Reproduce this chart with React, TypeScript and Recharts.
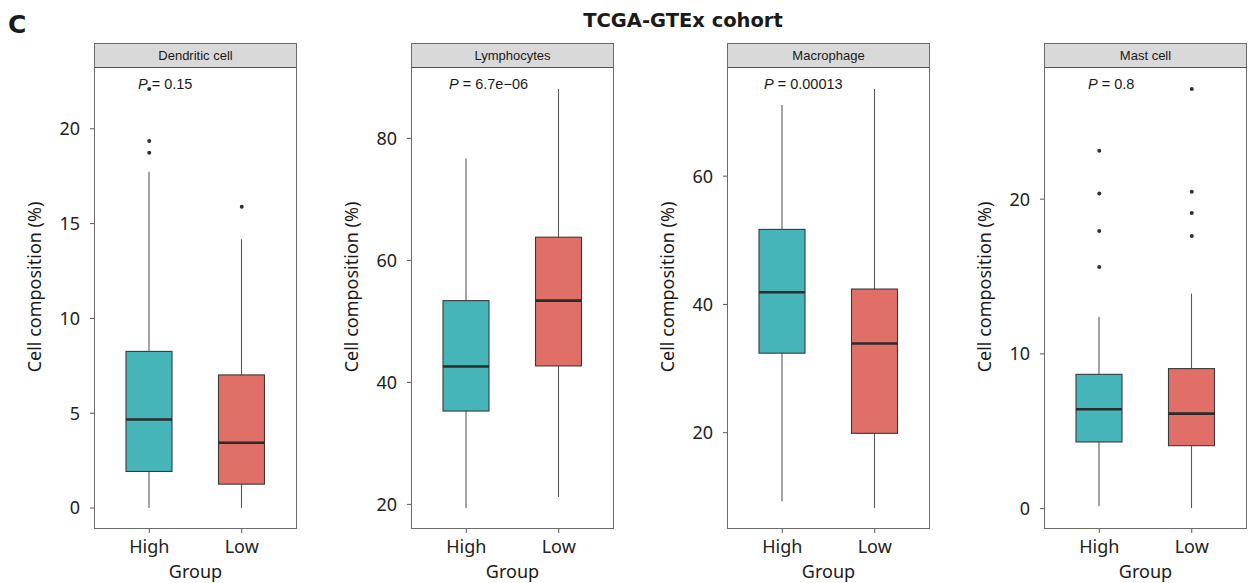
import React from 'react';
import { ComposedChart, Bar, Scatter, XAxis, YAxis } from 'recharts';

const cellTypes = ['Dendritic cell', 'Lymphocytes', 'Macrophage', 'Mast cell'];
const groups = ['High', 'Low'];
const pValues = ['0.15', '6.7e\u221206', '0.00013', '0.8'];

// each entry: [High, Low]
const whiskerMin = [[0, 0], [19.4, 21.2], [9.3, 8.25], [0.17, 0.04]];
const lowerQuartile = [[1.93, 1.26], [35.3, 42.7], [32.4, 19.9], [4.31, 4.07]];
const medianValues = [[4.67, 3.44], [42.6, 53.4], [41.9, 33.9], [6.42, 6.14]];
const upperQuartile = [[8.26, 7.02], [53.4, 63.8], [51.7, 42.4], [8.68, 9.05]];
const whiskerMax = [[17.74, 14.18], [76.7, 88.1], [71.1, 73.6], [12.39, 13.9]];
const outlierValues = [
    [[22.1, 19.35, 18.74], [15.89]],
    [[], []],
    [[], []],
    [[23.12, 20.36, 17.94, 15.62], [27.12, 20.47, 19.11, 17.62]],
];
const yTicks = [[0, 5, 10, 15, 20], [20, 40, 60, 80], [20, 40, 60], [0, 10, 20]];

const GROUP_COLORS = ['#45b5b9', '#e06f68'];
const PLOT_LEFT = [94, 411, 727, 1044];
const PLOT_WIDTH = 203;
const AXIS_W = 94;
const P_LABEL_OFFSET = [44, 38, 37, 44];

const tickFont = { fill: '#222', fontSize: 18, fontFamily: 'Noto Sans' };

function BoxShape(props: any) {
    const { x, y, width, height, payload } = props;
    const [lo, hi] = payload.range;
    const top = Math.min(y, y + height);
    const bottom = Math.max(y, y + height);
    const toPx = (v: number) => top + ((hi - v) / (hi - lo)) * (bottom - top);
    const cx = x + width / 2;
    const q3y = toPx(payload.q3);
    const q1y = toPx(payload.q1);
    const my = toPx(payload.median);
    return (
        <g>
            <line x1={cx} x2={cx} y1={top} y2={bottom} stroke="#5a5a5a" strokeWidth={1.1} />
            <rect x={x} y={q3y} width={width} height={q1y - q3y} fill={payload.color} stroke="#3a3a3a" strokeWidth={1.1} />
            <line x1={x} x2={x + width} y1={my} y2={my} stroke="#2b2b2b" strokeWidth={2.6} />
        </g>
    );
}

function OutlierDot(props: any) {
    if (props.cx == null || props.cy == null || isNaN(props.cy)) return <g />;
    return <circle cx={props.cx} cy={props.cy} r={2} fill="#2f2f2f" />;
}

function BoxPanel({ index }: { index: number }) {
    const rows = groups.map((g, i) => ({
        group: g,
        range: [whiskerMin[index][i], whiskerMax[index][i]],
        q1: lowerQuartile[index][i],
        median: medianValues[index][i],
        q3: upperQuartile[index][i],
        color: GROUP_COLORS[i],
    }));
    const points = groups.flatMap((g, i) => outlierValues[index][i].map(v => ({ group: g, value: v })));

    // ggplot style 5% expansion of the data range
    const all = [...whiskerMin[index], ...whiskerMax[index], ...outlierValues[index].flat()];
    const lo = Math.min(...all);
    const hi = Math.max(...all);
    const pad = (hi - lo) * 0.05;

    return (
        <div style={{ position: 'absolute', left: PLOT_LEFT[index] - AXIS_W, top: 0 }}>
            <ComposedChart
                width={AXIS_W + PLOT_WIDTH + 1}
                height={583}
                data={rows}
                margin={{ top: 68, right: 1, bottom: 0, left: 0 }}
            >
                <XAxis
                    dataKey="group"
                    type="category"
                    allowDuplicatedCategory={false}
                    padding={{ left: 9, right: 9 }}
                    height={54}
                    tickSize={4}
                    tickMargin={7}
                    axisLine={false}
                    tickLine={{ stroke: '#555' }}
                    tick={tickFont}
                />
                <YAxis
                    type="number"
                    domain={[lo - pad, hi + pad]}
                    ticks={yTicks[index]}
                    width={AXIS_W}
                    tickSize={4}
                    tickMargin={10}
                    axisLine={false}
                    tickLine={{ stroke: '#555' }}
                    tick={tickFont}
                />
                <Bar dataKey="range" barSize={46} shape={BoxShape} isAnimationActive={false} />
                {points.length > 0 && (
                    <Scatter data={points} dataKey="value" shape={OutlierDot} isAnimationActive={false} />
                )}
            </ComposedChart>
        </div>
    );
}

export default function App() {
    return (
        <div style={{ position: 'absolute', left: 0, top: 0, width: 1248, height: 583, background: '#fff', overflow: 'hidden' }}>
            {cellTypes.map((_, i) => <BoxPanel key={i} index={i} />)}

            <svg width={1248} height={583} style={{ position: 'absolute', left: 0, top: 0, pointerEvents: 'none' }}>
                <text x={8} y={33} fontFamily="DejaVu Sans" fontWeight="bold" fontSize={25} fill="#1a1a1a">C</text>
                <text x={683} y={27} textAnchor="middle" fontFamily="DejaVu Sans" fontWeight="bold" fontSize={19.5} fill="#1a1a1a">
                    TCGA-GTEx cohort
                </text>

                {cellTypes.map((name, i) => {
                    const left = PLOT_LEFT[i];
                    const mid = left + PLOT_WIDTH / 2;
                    return (
                        <g key={name}>
                            <rect x={left + 0.5} y={43.5} width={PLOT_WIDTH - 1} height={24} fill="#d9d9d9" stroke="#555" />
                            <rect x={left + 0.5} y={43.5} width={PLOT_WIDTH - 1} height={485} fill="none" stroke="#6b6b6b" />
                            <text x={mid} y={60} textAnchor="middle" fontFamily="Liberation Sans" fontSize={13} fill="#1a1a1a">
                                {name}
                            </text>
                            <text x={left + P_LABEL_OFFSET[i]} y={89} fontFamily="Liberation Sans" fontSize={14.5} fill="#1a1a1a">
                                <tspan fontStyle="italic">P</tspan> = {pValues[i]}
                            </text>
                            <text
                                x={left - 60}
                                y={287}
                                transform={`rotate(-90, ${left - 60}, 287)`}
                                textAnchor="middle"
                                dominantBaseline="central"
                                fontFamily="Noto Sans"
                                fontSize={18}
                                fill="#1a1a1a"
                            >
                                Cell composition (%)
                            </text>
                            <text x={mid} y={577.5} textAnchor="middle" fontFamily="Noto Sans" fontSize={18} fill="#1a1a1a">
                                Group
                            </text>
                        </g>
                    );
                })}
            </svg>
        </div>
    );
}
